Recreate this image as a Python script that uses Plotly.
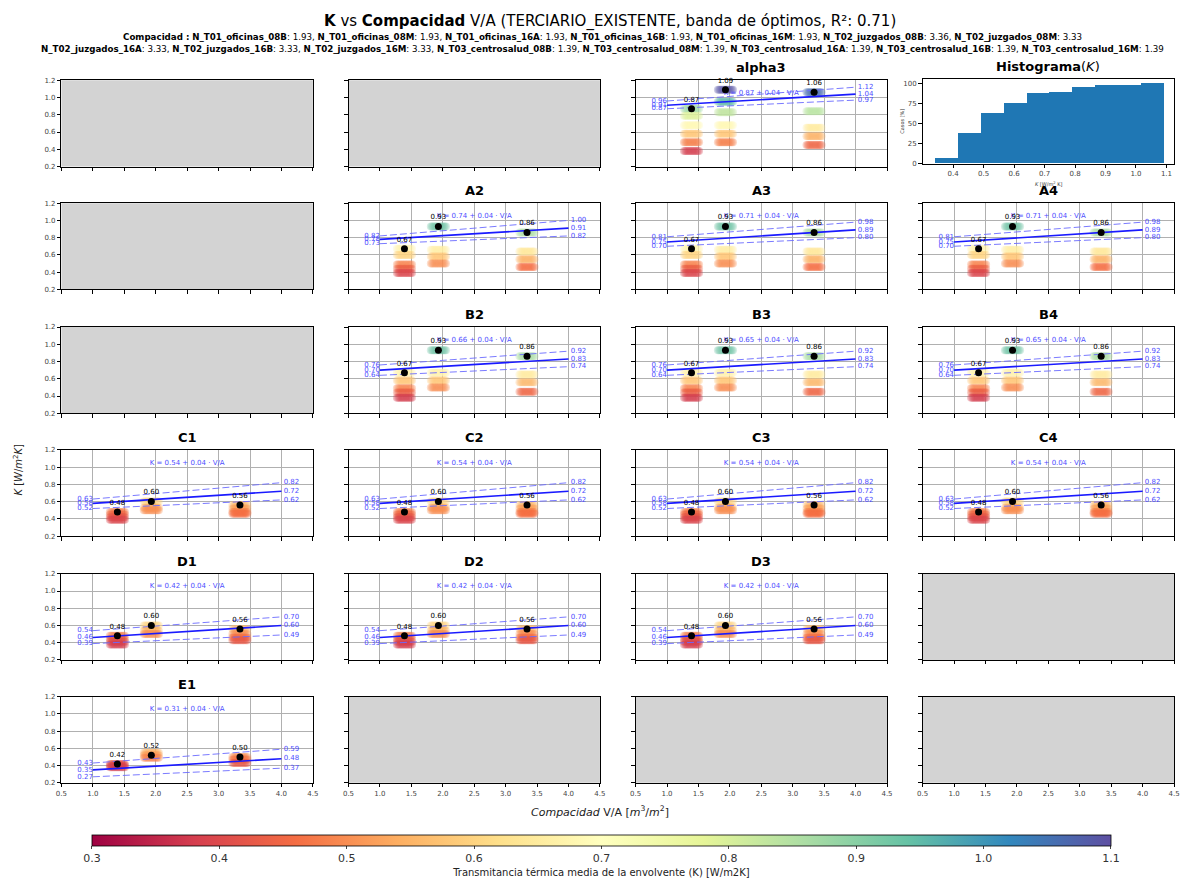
import plotly.graph_objects as go

W, H = 1187, 879
FONT = "DejaVu Sans"

# ---------------- data ----------------
building_names = ["N_T01_oficinas_08B", "N_T01_oficinas_08M", "N_T01_oficinas_16A", "N_T01_oficinas_16B",
                  "N_T01_oficinas_16M", "N_T02_juzgados_08B", "N_T02_juzgados_08M", "N_T02_juzgados_16A",
                  "N_T02_juzgados_16B", "N_T02_juzgados_16M", "N_T03_centrosalud_08B", "N_T03_centrosalud_08M",
                  "N_T03_centrosalud_16A", "N_T03_centrosalud_16B", "N_T03_centrosalud_16M"]
building_compacidad = [1.93, 1.93, 1.93, 1.93, 1.93, 3.36, 3.33, 3.33, 3.33, 3.33, 1.39, 1.39, 1.39, 1.39, 1.39]

panel_names = ["alpha3", "A2", "A3", "A4", "B2", "B3", "B4", "C1", "C2", "C3", "C4", "D1", "D2", "D3", "E1"]
panel_row = [0, 1, 1, 1, 2, 2, 2, 3, 3, 3, 3, 4, 4, 4, 5]
panel_col = [2, 1, 2, 3, 1, 2, 3, 0, 1, 2, 3, 0, 1, 2, 0]
panel_group = ["alpha3", "A", "A", "A", "B", "B", "B", "C", "C", "C", "C", "D", "D", "D", "E"]
empty_panels = [(0, 0), (0, 1), (1, 0), (2, 0), (4, 3), (5, 1), (5, 2), (5, 3)]
hist_panel = (0, 3)

fit_intercept = [0.87, 0.74, 0.71, 0.71, 0.66, 0.65, 0.65, 0.54, 0.54, 0.54, 0.54, 0.42, 0.42, 0.42, 0.31]
fit_slope = [0.04, 0.04, 0.04, 0.04, 0.04, 0.04, 0.04, 0.04, 0.04, 0.04, 0.04, 0.04, 0.04, 0.04, 0.04]
band_left_upper = [0.96, 0.82, 0.81, 0.81, 0.76, 0.76, 0.76, 0.63, 0.63, 0.63, 0.63, 0.54, 0.54, 0.54, 0.43]
band_left_mid = [0.91, 0.78, 0.75, 0.75, 0.70, 0.70, 0.70, 0.58, 0.58, 0.58, 0.58, 0.46, 0.46, 0.46, 0.35]
band_left_lower = [0.87, 0.73, 0.70, 0.70, 0.64, 0.64, 0.64, 0.52, 0.52, 0.52, 0.52, 0.39, 0.39, 0.39, 0.27]
band_right_upper = [1.12, 1.00, 0.98, 0.98, 0.92, 0.92, 0.92, 0.82, 0.82, 0.82, 0.82, 0.70, 0.70, 0.70, 0.59]
band_right_mid = [1.04, 0.91, 0.89, 0.89, 0.83, 0.83, 0.83, 0.72, 0.72, 0.72, 0.72, 0.60, 0.60, 0.60, 0.48]
band_right_lower = [0.97, 0.82, 0.80, 0.80, 0.74, 0.74, 0.74, 0.62, 0.62, 0.62, 0.62, 0.49, 0.49, 0.49, 0.37]
band_x = [1.0, 4.0]

opt_compacidad = [1.39, 1.93, 3.34]
opt_k_alpha3 = [0.87, 1.09, 1.06]
opt_k_A = [0.67, 0.93, 0.86]
opt_k_B = [0.67, 0.93, 0.86]
opt_k_C = [0.48, 0.60, 0.56]
opt_k_D = [0.48, 0.60, 0.56]
opt_k_E = [0.42, 0.52, 0.50]

cases_alpha3_x = [1.39, 1.39, 1.39, 1.39, 1.39, 1.39, 1.93, 1.93, 1.93, 1.93, 1.93, 1.93, 3.34, 3.34, 3.34, 3.34, 3.34]
cases_alpha3_k = [0.87, 0.79, 0.68, 0.58, 0.48, 0.38, 1.09, 0.95, 0.83, 0.68, 0.58, 0.48, 1.06, 0.84, 0.65, 0.55, 0.45]
cases_A_x = [1.39, 1.39, 1.39, 1.39, 1.39, 1.93, 1.93, 1.93, 1.93, 3.34, 3.34, 3.34, 3.34]
cases_A_k = [0.67, 0.60, 0.49, 0.44, 0.39, 0.93, 0.66, 0.58, 0.50, 0.86, 0.64, 0.55, 0.46]
cases_B_x = [1.39, 1.39, 1.39, 1.39, 1.39, 1.93, 1.93, 1.93, 1.93, 3.34, 3.34, 3.34, 3.34]
cases_B_k = [0.67, 0.58, 0.49, 0.44, 0.38, 0.93, 0.67, 0.58, 0.50, 0.86, 0.65, 0.56, 0.45]
cases_C_x = [1.39, 1.39, 1.39, 1.39, 1.93, 1.93, 1.93, 3.34, 3.34, 3.34, 3.34]
cases_C_k = [0.48, 0.45, 0.42, 0.39, 0.60, 0.53, 0.50, 0.56, 0.52, 0.48, 0.46]
cases_D_x = [1.39, 1.39, 1.39, 1.39, 1.93, 1.93, 1.93, 3.34, 3.34, 3.34, 3.34]
cases_D_k = [0.48, 0.44, 0.41, 0.38, 0.60, 0.54, 0.50, 0.56, 0.50, 0.46, 0.43]
cases_E_x = [1.39, 1.39, 1.39, 1.93, 1.93, 1.93, 3.34, 3.34, 3.34]
cases_E_k = [0.42, 0.40, 0.38, 0.55, 0.52, 0.49, 0.50, 0.47, 0.43]

hist_edges_left = [0.34, 0.415, 0.49, 0.565, 0.64, 0.715, 0.79, 0.865, 0.94, 1.015]
hist_bin_width = 0.075
hist_cum_pct = [7, 38, 62, 75, 88, 89, 95, 98, 98, 100]

x_ticks = [0.5, 1.0, 1.5, 2.0, 2.5, 3.0, 3.5, 4.0, 4.5]
y_ticks = [0.2, 0.4, 0.6, 0.8, 1.0, 1.2]
cbar_ticks = [0.3, 0.4, 0.5, 0.6, 0.7, 0.8, 0.9, 1.0, 1.1]
hist_x_ticks = [0.4, 0.5, 0.6, 0.7, 0.8, 0.9, 1.0, 1.1]
hist_y_ticks = [0, 25, 50, 75, 100]

group_cases = {"alpha3": (cases_alpha3_x, cases_alpha3_k), "A": (cases_A_x, cases_A_k),
               "B": (cases_B_x, cases_B_k), "C": (cases_C_x, cases_C_k),
               "D": (cases_D_x, cases_D_k), "E": (cases_E_x, cases_E_k)}
group_opt = {"alpha3": opt_k_alpha3, "A": opt_k_A, "B": opt_k_B, "C": opt_k_C, "D": opt_k_D, "E": opt_k_E}

SPECTRAL = ['rgb(158,1,66)', 'rgb(213,62,79)', 'rgb(244,109,67)', 'rgb(253,174,97)', 'rgb(254,224,139)',
            'rgb(255,255,191)', 'rgb(230,245,152)', 'rgb(171,221,164)', 'rgb(102,194,165)',
            'rgb(50,136,189)', 'rgb(94,79,162)']

# ---------------- layout geometry (pixels) ----------------
col_left = [56, 346, 636, 926]
col_w = 254
row_top = [77, 201, 326, 450, 575, 699]
row_h = 87


def xdom(c):
    return [col_left[c] / W, (col_left[c] + col_w) / W]


def ydom(r, top=None, bottom=None):
    t = row_top[r] if top is None else top
    b = row_top[r] + row_h if bottom is None else bottom
    return [1 - b / H, 1 - t / H]


def ax_id(r, c):
    return r * 4 + c + 1


def xname(i):
    return "x" if i == 1 else f"x{i}"


def yname(i):
    return "y" if i == 1 else f"y{i}"


fig = go.Figure()
layout = dict(width=W, height=H, autosize=False, margin=dict(l=0, r=0, t=0, b=0),
              paper_bgcolor="white", plot_bgcolor="white", showlegend=False,
              font=dict(family=FONT, color="black"))

axis_common = dict(showline=True, linecolor="black", linewidth=1, mirror=True, ticks="outside",
                   ticklen=3.5, tickwidth=0.8, tickcolor="black", zeroline=False,
                   tickfont=dict(size=7, color="#444", family=FONT), gridcolor="#b0b0b0", gridwidth=0.7)

data_cells = set(zip(panel_row, panel_col))
shapes = []
annotations = []

for r in range(6):
    for c in range(4):
        i = ax_id(r, c)
        xa = "xaxis" if i == 1 else f"xaxis{i}"
        ya = "yaxis" if i == 1 else f"yaxis{i}"
        if (r, c) == hist_panel:
            layout[xa] = dict(axis_common, domain=xdom(c), anchor=yname(i), range=[0.30, 1.125],
                              tickvals=hist_x_ticks, ticktext=[f"{v:.1f}" for v in hist_x_ticks],
                              showgrid=False)
            layout[ya] = dict(axis_common, domain=ydom(r, 76, 161), anchor=xname(i), range=[0, 105],
                              tickvals=hist_y_ticks, ticktext=[str(v) for v in hist_y_ticks],
                              showgrid=False)
            continue
        is_data = (r, c) in data_cells
        layout[xa] = dict(axis_common, domain=xdom(c), anchor=yname(i), range=[0.5, 4.5],
                          tickvals=x_ticks, ticktext=[f"{v:.1f}" for v in x_ticks],
                          showticklabels=(r == 5), showgrid=is_data)
        layout[ya] = dict(axis_common, domain=ydom(r), anchor=xname(i), range=[0.2, 1.2],
                          tickvals=y_ticks, ticktext=[f"{v:.1f}" for v in y_ticks],
                          showticklabels=(c == 0), showgrid=is_data)
        if (r, c) in empty_panels:
            # an empty trace so that the subplot axes are drawn
            fig.add_trace(go.Scatter(x=[None], y=[None], mode="markers", xaxis=xname(i), yaxis=yname(i),
                                     hoverinfo="skip"))
            shapes.append(dict(type="rect", xref=f"{xname(i)} domain", yref=f"{yname(i)} domain",
                               x0=0, x1=1, y0=0, y1=1, fillcolor="#d3d3d3", line=dict(width=0),
                               layer="below"))

# ---------------- panels ----------------
BLOB_OFFSETS = [k * 0.02 - 0.12 for k in range(13)]
LINE_BLUE = "#1a1aff"
BAND_BLUE = "#6b6bff"
TEXT_BLUE = "#4d4dff"

first = True
for p, name in enumerate(panel_names):
    r, c = panel_row[p], panel_col[p]
    i = ax_id(r, c)
    xr, yr = xname(i), yname(i)
    cx, ck = group_cases[panel_group[p]]

    bx, by, bc = [], [], []
    for x0, k in zip(cx, ck):
        for off in BLOB_OFFSETS:
            bx.append(x0 + off)
            by.append(k)
            bc.append(k)
    marker = dict(size=8, color=bc, colorscale=SPECTRAL, cmin=0.3, cmax=1.1, opacity=0.3,
                  line=dict(width=0), showscale=first)
    if first:
        marker["colorbar"] = dict(orientation="h", x=(87 + 1116) / 2 / W, xanchor="center",
                                  y=1 - 839 / H, yanchor="top", len=(1116 - 87) / W, lenmode="fraction",
                                  thickness=11, outlinecolor="black", outlinewidth=0.8,
                                  xpad=0, ypad=0, tickvals=cbar_ticks,
                                  ticktext=[f"{v:.1f}" for v in cbar_ticks], ticks="outside", ticklen=3,
                                  tickfont=dict(size=11, color="#333", family=FONT),
                                  title=dict(text="Transmitancia térmica media de la envolvente (K) [W/m2K]",
                                             side="bottom", font=dict(size=10, color="#222", family=FONT)))
    fig.add_trace(go.Scatter(x=bx, y=by, mode="markers", marker=marker, xaxis=xr, yaxis=yr,
                             hoverinfo="skip"))
    first = False

    # band lines
    for lu, ru, dash, col, wd in [(band_left_upper[p], band_right_upper[p], "7px,3px", BAND_BLUE, 0.9),
                                  (band_left_lower[p], band_right_lower[p], "7px,3px", BAND_BLUE, 0.9),
                                  (band_left_mid[p], band_right_mid[p], "solid", LINE_BLUE, 1.6)]:
        fig.add_trace(go.Scatter(x=band_x, y=[lu, ru], mode="lines",
                                 line=dict(color=col, width=wd, dash=dash),
                                 xaxis=xr, yaxis=yr, hoverinfo="skip"))
    # band labels
    lvals = [band_left_upper[p], band_left_mid[p], band_left_lower[p]]
    rvals = [band_right_upper[p], band_right_mid[p], band_right_lower[p]]
    fig.add_trace(go.Scatter(x=[band_x[0]] * 3, y=lvals, mode="text", text=[f"{v:.2f}" for v in lvals],
                             textposition="middle left", textfont=dict(size=7, color=TEXT_BLUE, family=FONT),
                             xaxis=xr, yaxis=yr, hoverinfo="skip", cliponaxis=False))
    fig.add_trace(go.Scatter(x=[band_x[1]] * 3, y=rvals, mode="text", text=[f" {v:.2f}" for v in rvals],
                             textposition="middle right", textfont=dict(size=7, color=TEXT_BLUE, family=FONT),
                             xaxis=xr, yaxis=yr, hoverinfo="skip", cliponaxis=False))
    # equation
    fig.add_trace(go.Scatter(x=[2.5], y=[1.05], mode="text",
                             text=[f"K = {fit_intercept[p]:.2f} + {fit_slope[p]:.2f} · V/A"],
                             textposition="middle center", textfont=dict(size=7, color=TEXT_BLUE, family=FONT),
                             xaxis=xr, yaxis=yr, hoverinfo="skip"))
    # optimum points
    ok = group_opt[panel_group[p]]
    fig.add_trace(go.Scatter(x=opt_compacidad, y=ok, mode="markers+text", text=[f"{v:.2f}" for v in ok],
                             textposition="top center", textfont=dict(size=7, color="black", family=FONT),
                             marker=dict(size=7, color="black"), xaxis=xr, yaxis=yr, hoverinfo="skip",
                             cliponaxis=False))
    # panel title
    annotations.append(dict(text=f"<b>{name}</b>", xref="paper", yref="paper",
                            x=(col_left[c] + col_w / 2) / W, y=1 - (row_top[r] - 3) / H,
                            xanchor="center", yanchor="bottom", showarrow=False,
                            font=dict(size=13, color="black", family=FONT)))

# ---------------- histogram ----------------
hr, hc = hist_panel
hi = ax_id(hr, hc)
fig.add_trace(go.Bar(x=hist_edges_left, y=hist_cum_pct, width=hist_bin_width, offset=0,
                     marker=dict(color="#1f77b4", line=dict(width=0)), xaxis=xname(hi), yaxis=yname(hi),
                     hoverinfo="skip"))
layout["bargap"] = 0
annotations.append(dict(text="<b>Histograma</b>(<i>K</i>)", xref="paper", yref="paper",
                        x=(col_left[hc] + col_w / 2) / W, y=1 - 73 / H, xanchor="center", yanchor="bottom",
                        showarrow=False, font=dict(size=13, color="black", family=FONT)))
annotations.append(dict(text="<i>K</i> [W/m<sup>2</sup> K]", xref="paper", yref="paper",
                        x=(col_left[hc] + col_w / 2) / W, y=1 - 182 / H, xanchor="center", yanchor="middle",
                        showarrow=False, font=dict(size=5, color="#333", family=FONT)))
annotations.append(dict(text="Casos [%]", xref="paper", yref="paper", textangle=-90,
                        x=905 / W, y=1 - 118 / H, xanchor="center", yanchor="middle",
                        showarrow=False, font=dict(size=5, color="#333", family=FONT)))

# ---------------- titles ----------------
annotations.append(dict(text="<b>K</b> vs <b>Compacidad</b> V/A (TERCIARIO_EXISTENTE, banda de óptimos, R²: 0.71)",
                        xref="paper", yref="paper", x=610 / W, y=1 - 18 / H, xanchor="center", yanchor="middle",
                        showarrow=False, font=dict(size=15, color="black", family=FONT)))
parts = [f"<b>{n}</b>: {v:.2f}" for n, v in zip(building_names, building_compacidad)]
line1 = "<b>Compacidad :</b> " + ", ".join(parts[:7])
line2 = ", ".join(parts[7:])
annotations.append(dict(text=line1, xref="paper", yref="paper", x=603 / W, y=1 - 33 / H,
                        xanchor="center", yanchor="middle", showarrow=False,
                        font=dict(size=8.7, color="black", family=FONT)))
annotations.append(dict(text=line2, xref="paper", yref="paper", x=603 / W, y=1 - 45 / H,
                        xanchor="center", yanchor="middle", showarrow=False,
                        font=dict(size=8.7, color="black", family=FONT)))

annotations.append(dict(text="<i>K</i> [<i>W</i>/<i>m</i><sup>2</sup><i>K</i>]", xref="paper", yref="paper",
                        x=12 / W, y=1 - 470 / H, textangle=-90, xanchor="center", yanchor="middle",
                        showarrow=False, font=dict(size=10, color="#222", family=FONT)))
annotations.append(dict(text="<i>Compacidad</i> V/A [<i>m</i><sup>3</sup>/<i>m</i><sup>2</sup>]",
                        xref="paper", yref="paper", x=600 / W, y=1 - 815 / H, xanchor="center",
                        yanchor="middle", showarrow=False, font=dict(size=11, color="#222", family=FONT)))

layout["shapes"] = shapes
layout["annotations"] = annotations
fig.update_layout(**layout)
fig.write_html("out.html")
